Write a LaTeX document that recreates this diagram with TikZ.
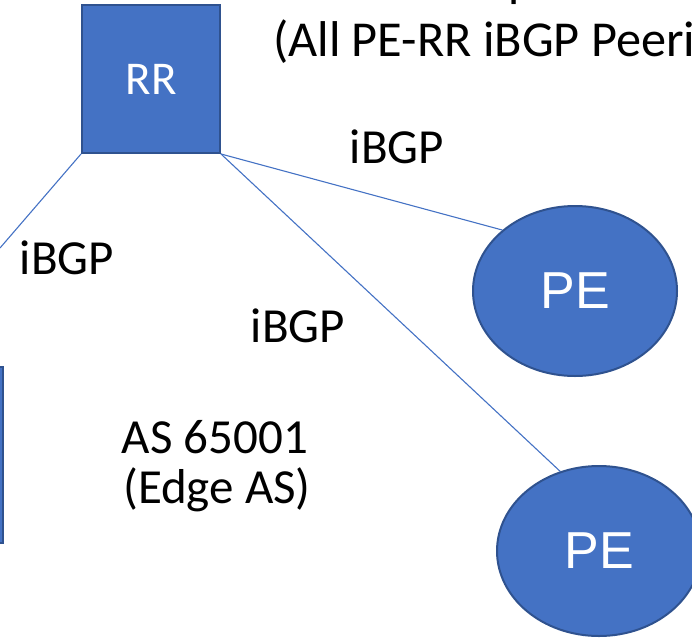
\documentclass[tikz,border=0pt]{standalone}
\usepackage{fontspec}
\setmainfont{Carlito}
\newfontfamily\arialf{Liberation Sans}
\usetikzlibrary{shapes.geometric}
\definecolor{fillblue}{HTML}{4472C4}
\definecolor{edgeblue}{HTML}{2F528F}
\begin{document}
\begin{tikzpicture}[x=1pt,y=-1pt,
  dev/.style={fill=fillblue,draw=edgeblue,line width=2pt,text=white,inner sep=0pt},
  link/.style={draw=fillblue,line width=1.1pt},
  lbl/.style={font=\fontsize{49}{50}\selectfont,inner sep=0pt,anchor=base}]
\useasboundingbox (0,0) rectangle (692,637);
% devices
\node[dev,rectangle,minimum width=138pt,minimum height=148pt,font=\fontsize{47}{50}\selectfont] (rr) at (151,79) {RR};
\node[dev,ellipse,minimum width=204pt,minimum height=170pt,font=\arialf\fontsize{52}{56}\selectfont] (pe1) at (575,291) {PE};
\node[dev,ellipse,minimum width=204pt,minimum height=170pt,font=\arialf\fontsize{52}{56}\selectfont] (pe2) at (599,551) {PE};
\node[dev,rectangle,minimum width=200pt,minimum height=176pt] (ce) at (-97,455) {};
% connectors
\coordinate (lend) at (0,248);
\draw[link] (rr.south west) -- (lend);
\draw[link] (rr.south east) -- (pe1.140);
\draw[link] (rr.south east) -- (pe2.116);
% labels
\node[lbl,anchor=base west,font=\fontsize{50}{50}\selectfont] (topfrag) at (508,-4) {p};
\node[lbl,anchor=base west,font=\fontsize{50.3}{50}\selectfont] (title) at (273,56) {(All PE-RR iBGP Peering)};
\node[lbl] (l1) at (397,163) {iBGP};
\node[lbl] (l2) at (67,274) {iBGP};
\node[lbl] (l3) at (298,342) {iBGP};
\node[lbl] (as1) at (215,453) {AS 65001};
\node[lbl] (as2) at (217,503) {(Edge AS)};
\end{tikzpicture}
\end{document}
